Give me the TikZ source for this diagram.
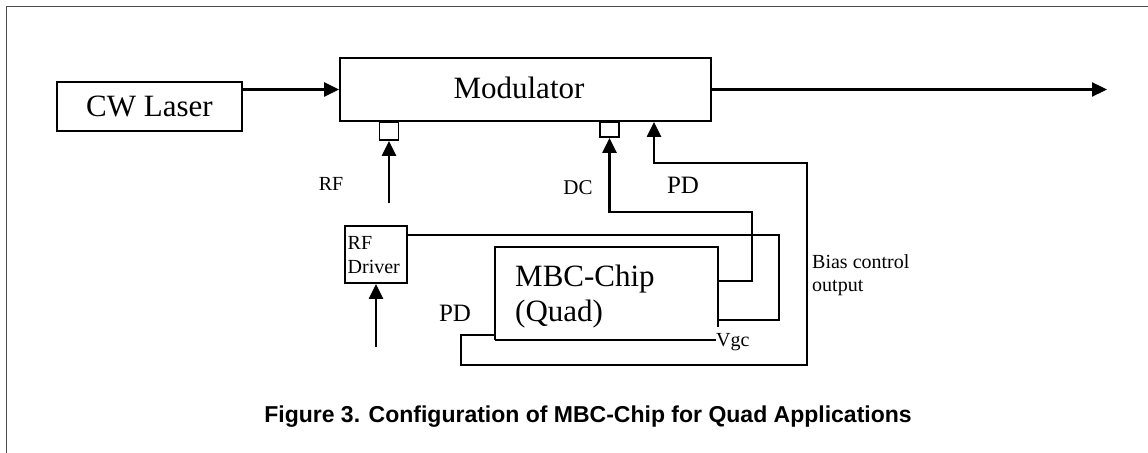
\documentclass[tikz,border=0pt]{standalone}
\usepackage{fontspec}
\setmainfont{Liberation Serif}
\newfontfamily\capfont{Liberation Sans}
\usetikzlibrary{arrows.meta,calc}
\newcommand\fsz[1]{\fontsize{#1bp}{#1bp}\selectfont}
\begin{document}
\begin{tikzpicture}[x=1bp,y=-1bp,
  boxnode/.style={draw, line width=1.8bp, inner sep=0pt, fill=white},
  ghost/.style={inner sep=0pt},
  txt/.style={inner sep=0pt},
  wire/.style={line width=1.8bp},
  arr/.style={line width=2.3bp, -{Triangle[length=15bp,width=14bp]}},
  frame/.style={line width=1.8bp, black!70}]
\useasboundingbox (0,0) rectangle (1148,453);
\draw[frame] (6.5,453) -- (6.5,6.5) -- (1148,6.5);

% boxes
\node[boxnode, minimum width=185bp, minimum height=49bp, font=\fsz{31}] (laser) at (149.5,106.5) {CW Laser};
\node[boxnode, minimum width=371bp, minimum height=63bp] (mod) at (525.5,89.5) {};
\node[txt, anchor=base, font=\fsz{31}] (modtxt) at (519,98.3) {Modulator};
\node[boxnode, minimum width=19bp, minimum height=18bp] (rfport) at (389,131) {};
\node[boxnode, minimum width=19bp, minimum height=15bp] (dcport) at (609.5,129.5) {};
\node[boxnode, minimum width=62bp, minimum height=57bp] (drv) at (376,254.5) {};
\node[txt, anchor=base west, font=\fsz{20}] (drv1) at (347.5,249.3) {RF};
\node[txt, anchor=base west, font=\fsz{20}] (drv2) at (347.5,273.3) {Driver};
\node[ghost, minimum width=223bp, minimum height=93bp] (chip) at (606.5,293.5) {};
\node[txt, anchor=base west, font=\fsz{31}] (chip1) at (515,286.7) {MBC-Chip};
\node[txt, anchor=base west, font=\fsz{31}] (chip2) at (515,321.7) {(Quad)};
\node[txt, anchor=base west, font=\fsz{20}] (vgc) at (716,346.7) {Vgc};

% chip outline (open at the Vgc corner)
\draw[wire] (chip.south west) -- (chip.north west) -- (chip.north east) -- ($(chip.south east)+(0,-13)$);
\draw[wire] (chip.south west) -- (chip.south west -| vgc.west);

% labels
\node[txt, anchor=base, font=\fsz{20}] (rflab) at (331,190.7) {RF};
\node[txt, anchor=base, font=\fsz{21}] (dclab) at (578,194.3) {DC};
\node[txt, anchor=base, font=\fsz{25}] (pdlab1) at (683,193.3) {PD};
\node[txt, anchor=base, font=\fsz{25}] (pdlab2) at (455,321.7) {PD};
\node[txt, anchor=base west, font=\fsz{20}] (bias1) at (812,268.3) {Bias control};
\node[txt, anchor=base west, font=\fsz{20}] (bias2) at (812,291.7) {output};
\node[txt, anchor=base, font=\capfont\bfseries\fsz{23}] (cap) at (588,422.7) {Figure 3. Configuration of MBC-Chip for Quad Applications};

% connectors
\coordinate (outend) at (1107,89.5);
\coordinate (rfin) at (389,203);
\coordinate (drvin) at (376,347);
\coordinate (dcA) at (752,212);
\coordinate (pdA) at (461,365);
\coordinate (pdB) at (807,163);
\coordinate (pdx) at (654,0);
\coordinate (drvR) at (779,320);

\draw[arr] (laser.east |- mod.west) -- (mod.west);
\draw[arr] (mod.east) -- (outend);
\draw[arr] (rfin) -- (rfport.south);
\draw[arr] (drvin) -- (drv.south);
\draw[arr] ($(chip.north east)+(0,34)$) -| (dcA) -| (dcport.south);
\draw[arr] ($(chip.south west)+(0,-5)$) -| (pdA) -| (pdB) -| (pdx |- mod.south);
\draw[wire] ($(drv.north east)+(0,10)$) -| (drvR) -- (drvR -| chip.east);
\end{tikzpicture}
\end{document}
